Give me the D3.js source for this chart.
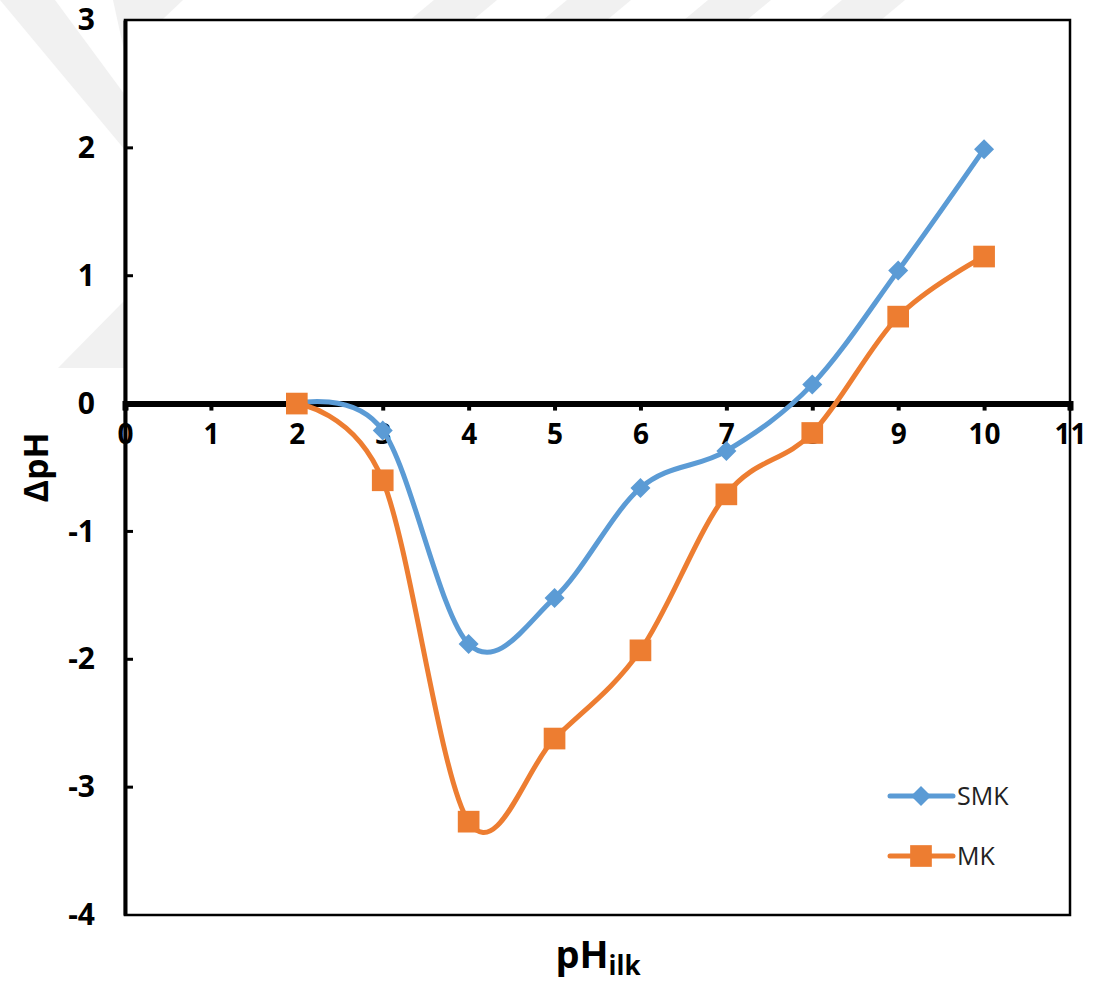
<!DOCTYPE html>
<html>
<head>
<meta charset="utf-8">
<script src="https://cdn.jsdelivr.net/npm/d3@7"></script>
<style>
  html, body { margin: 0; padding: 0; background: #fff; }
  svg { display: block; }
</style>
</head>
<body>
<svg id="chart" width="1097" height="987"></svg>
<script>
// Initial pH values and the resulting ΔpH for the two materials
const phInitial = [2, 3, 4, 5, 6, 7, 8, 9, 10];
const smkDelta = [0, -0.21, -1.88, -1.52, -0.66, -0.37, 0.15, 1.04, 1.99];
const mkDelta  = [0, -0.60, -3.27, -2.62, -1.93, -0.71, -0.23, 0.68, 1.15];
const xTicks = [0, 1, 2, 3, 4, 5, 6, 7, 8, 9, 10, 11];
const yTicks = [-4, -3, -2, -1, 0, 1, 2, 3];
const seriesNames = ["SMK", "MK"];

const svg = d3.select("#chart");
const blue = "#5B9BD5", orange = "#ED7D31";
const fmt = d => String(d); // plain hyphen for negatives

// faint background emblem
const wm = svg.append("g").attr("fill", "#f1f1f1");
wm.append("polygon").attr("points", "0,0 55,0 125,95 125,150");
wm.append("polygon").attr("points", "113,0 183,0 125,55");
wm.append("polygon").attr("points", "58,368 125,368 125,300");
[[422, 485], [555, 619], [696, 759], [830, 893]].forEach(([a, b]) => {
  wm.append("polygon").attr("points", `${a + 12},0 ${b + 12},0 ${b - 12},20 ${a - 12},20`);
});

const x = d3.scaleLinear().domain([0, 11]).range([125, 1070]);
const y = d3.scaleLinear().domain([-4, 3]).range([915, 20]);

// plot area
svg.append("rect")
  .attr("x", x(0)).attr("y", y(3))
  .attr("width", x(11) - x(0)).attr("height", y(-4) - y(3))
  .attr("fill", "#fff").attr("stroke", "#000").attr("stroke-width", 2.5);

// y axis (left)
const yAxis = svg.append("g")
  .attr("transform", `translate(${x(0)},0)`)
  .call(d3.axisLeft(y).tickValues(yTicks).tickSize(0).tickPadding(30).tickFormat(fmt));
yAxis.select(".domain").attr("stroke-width", 4);
yAxis.selectAll(".tick text")
  .attr("font-family", "'Open Sans', sans-serif")
  .attr("font-weight", 700).attr("font-size", 30).attr("fill", "#000");
// inward tick marks
svg.append("g").selectAll("line").data(yTicks.filter(v => v > -4 && v < 3 && v !== 0)).join("line")
  .attr("x1", x(0)).attr("x2", x(0) + 8)
  .attr("y1", d => y(d)).attr("y2", d => y(d))
  .attr("stroke", "#000").attr("stroke-width", 3);

// x axis along ΔpH = 0
const xAxis = svg.append("g")
  .attr("transform", `translate(0,${y(0)})`)
  .call(d3.axisBottom(x).tickValues(xTicks).tickSize(7).tickPadding(14).tickFormat(fmt));
xAxis.select(".domain").attr("stroke-width", 6);
xAxis.selectAll(".tick line").attr("stroke-width", 4);
xAxis.selectAll(".tick text")
  .attr("font-family", "'Open Sans', sans-serif")
  .attr("font-weight", 700).attr("font-size", 28).attr("fill", "#000");

// axis titles
svg.append("text")
  .attr("transform", `translate(48,${y(-0.5)}) rotate(-90)`)
  .attr("text-anchor", "middle")
  .attr("font-family", "'Open Sans', sans-serif").attr("font-weight", 700).attr("font-size", 34)
  .text("ΔpH");
const xt = svg.append("text")
  .attr("x", 598).attr("y", 968)
  .attr("text-anchor", "middle")
  .attr("font-family", "'Open Sans', sans-serif").attr("font-weight", 700).attr("font-size", 38);
xt.append("tspan").text("pH");
xt.append("tspan").attr("font-size", 26).attr("dy", 7).text("ilk");

// smoothed series lines
const line = d3.line()
  .x((d, i) => x(phInitial[i]))
  .y(d => y(d))
  .curve(d3.curveCatmullRom.alpha(0));

const series = [
  { name: seriesNames[0], values: smkDelta, color: blue, shape: d3.symbolSquare, size: 200, rot: 45 },
  { name: seriesNames[1], values: mkDelta, color: orange, shape: d3.symbolSquare, size: 470, rot: 0 }
];

series.forEach(s => {
  svg.append("path")
    .attr("d", line(s.values))
    .attr("fill", "none").attr("stroke", s.color)
    .attr("stroke-width", 5).attr("stroke-linecap", "round");
});
series.forEach(s => {
  svg.append("g").selectAll("path").data(s.values).join("path")
    .attr("transform", (d, i) => `translate(${x(phInitial[i])},${y(d)}) rotate(${s.rot})`)
    .attr("d", d3.symbol().type(s.shape).size(s.size))
    .attr("fill", s.color);
});

// legend
const legend = svg.append("g");
series.forEach((s, i) => {
  const ly = 796 + i * 60;
  legend.append("line")
    .attr("x1", 890).attr("x2", 953).attr("y1", ly).attr("y2", ly)
    .attr("stroke", s.color).attr("stroke-width", 5).attr("stroke-linecap", "round");
  legend.append("path")
    .attr("transform", `translate(921,${ly}) rotate(${s.rot})`)
    .attr("d", d3.symbol().type(s.shape).size(s.size))
    .attr("fill", s.color);
  legend.append("text")
    .attr("x", 957).attr("y", ly + 9)
    .attr("font-family", "'Open Sans', sans-serif").attr("font-size", 25).attr("fill", "#222")
    .text(s.name);
});
</script>
</body>
</html>
